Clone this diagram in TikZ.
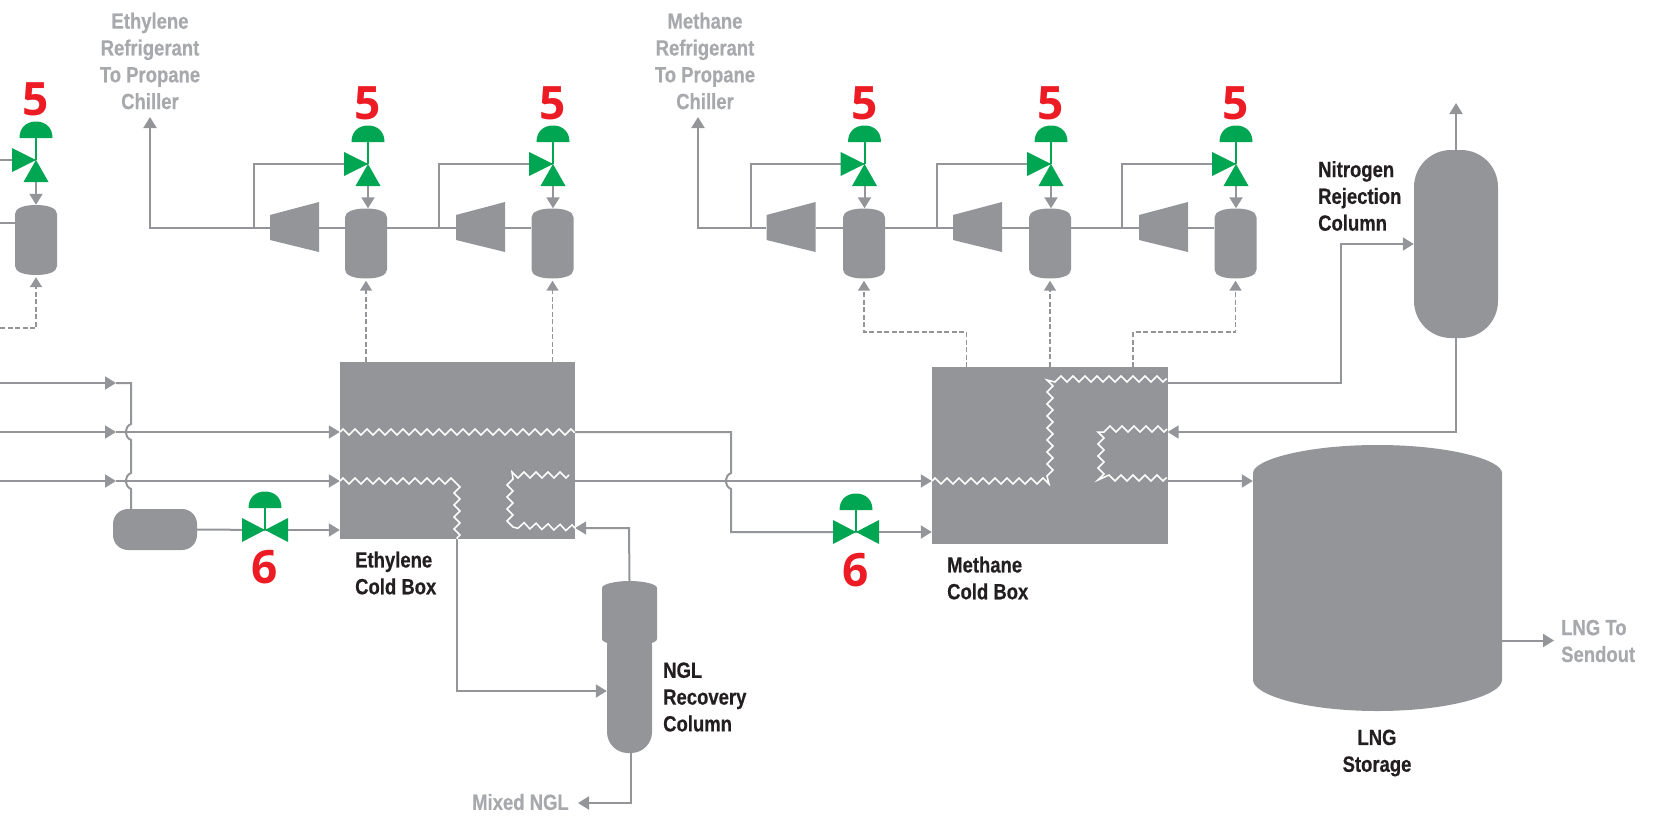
\documentclass[tikz,border=0pt]{standalone}
\usepackage{fontspec}
\usetikzlibrary{arrows.meta}
\usetikzlibrary{decorations.pathmorphing}
\usetikzlibrary{calc}
\newfontfamily\lblfont[FakeStretch=0.84,FakeBold=0.5]{Liberation Sans}
\newfontfamily\numfont{Open Sans}
\definecolor{gray1}{RGB}{147, 149, 152}
\definecolor{gray2}{RGB}{167, 169, 172}
\definecolor{green1}{RGB}{0, 166, 81}
\definecolor{red1}{RGB}{237, 28, 36}
\definecolor{dark1}{RGB}{35, 31, 32}
\tikzset{
  pipe/.style={draw=gray1, line width=2pt},
  flow/.style={pipe, -{Triangle[length=11pt,width=13pt]}},
  dashflow/.style={draw=gray1, line width=1.6pt, dash pattern=on 5pt off 2.5pt, -{Triangle[length=10pt,width=12pt,fill=gray1]}, shorten >=2pt},
  coil/.style={draw=white, line width=1.5pt, decorate, decoration={zigzag,amplitude=3pt,segment length=12pt}},
  domed/.style 2 args={rectangle, inner sep=0pt, path picture={
    \fill[gray1] ([yshift=-#1]path picture bounding box.north west)
      .. controls ([yshift=-3pt]path picture bounding box.north west) and ([xshift=-#2]path picture bounding box.north) .. (path picture bounding box.north)
      .. controls ([xshift=#2]path picture bounding box.north) and ([yshift=-3pt]path picture bounding box.north east) .. ([yshift=-#1]path picture bounding box.north east)
      -- ([yshift=#1]path picture bounding box.south east)
      .. controls ([yshift=3pt]path picture bounding box.south east) and ([xshift=#2]path picture bounding box.south) .. (path picture bounding box.south)
      .. controls ([xshift=-#2]path picture bounding box.south) and ([yshift=3pt]path picture bounding box.south west) .. ([yshift=#1]path picture bounding box.south west)
      -- cycle;}},
  vessel/.style={domed={9pt}{12pt}, minimum width=42pt, minimum height=70pt},
  comp/.style={rectangle, inner sep=0pt, minimum width=49pt, minimum height=50pt, path picture={
    \fill[gray1] ([yshift=-13pt]path picture bounding box.north west) -- (path picture bounding box.north east)
      -- (path picture bounding box.south east) -- ([yshift=12pt]path picture bounding box.south west) -- cycle;}},
  box/.style={rectangle, fill=gray1, inner sep=0pt},
  lngtank/.style={rectangle, inner sep=0pt, minimum width=249pt, minimum height=266pt, path picture={
    \fill[gray1] ([yshift=-28pt]path picture bounding box.north west)
      .. controls ([yshift=-15pt]path picture bounding box.north west) and ([xshift=-72pt]path picture bounding box.north) .. (path picture bounding box.north)
      .. controls ([xshift=72pt]path picture bounding box.north) and ([yshift=-15pt]path picture bounding box.north east) .. ([yshift=-28pt]path picture bounding box.north east)
      -- ([yshift=31pt]path picture bounding box.south east)
      .. controls ([yshift=16pt]path picture bounding box.south east) and ([xshift=72pt]path picture bounding box.south) .. (path picture bounding box.south)
      .. controls ([xshift=-72pt]path picture bounding box.south) and ([yshift=16pt]path picture bounding box.south west) .. ([yshift=31pt]path picture bounding box.south west)
      -- cycle;}},
  lbl/.style={align=center, inner sep=0pt, font=\lblfont\bfseries\fontsize{22}{26.8}\selectfont},
  darklbl/.style={lbl, text=dark1, align=left, anchor=west},
  graylbl/.style={lbl, text=gray2},
  num/.style={text=red1, inner sep=0pt, font=\numfont\bfseries\fontsize{46}{46}\selectfont},
  dome/.pic={
    \fill[green1] (-16.5,-22) .. controls (-16.5,-33) and (-9,-38.5) .. (0,-38.5)
      .. controls (9,-38.5) and (16.5,-33) .. (16.5,-22) -- cycle;
    \draw[green1, line width=2pt] (0,-22) -- (0,0);},
  valvea/.pic={
    \pic {dome};
    \fill[green1] (-24,-12) -- (0,0) -- (-24,12) -- cycle;
    \fill[green1] (0,0) -- (12.5,22) -- (-12.5,22) -- cycle;},
  valveb/.pic={
    \pic {dome};
    \fill[green1] (-23,-12) -- (23,12) -- (23,-12) -- (-23,12) -- cycle;}
}
\begin{document}
\begin{tikzpicture}[x=1pt, y=-1pt]
  \useasboundingbox (0,0) rectangle (1656,819);
  % cold boxes
  \node[box, minimum width=235pt, minimum height=177pt] (eBox) at (457.5,450.5) {};
  \node[box, minimum width=235.5pt, minimum height=177pt] (mBox) at (1049.75,455.5) {};
  \node[box, rounded corners=15pt, minimum width=84pt, minimum height=41pt] (tank) at (155,529.5) {};
  \node[box, rounded corners=37pt, minimum width=84pt, minimum height=188pt] (nrc) at (1456,244) {};
  \node[box, rounded corners=21pt, minimum width=45pt, minimum height=128pt] (nglB) at (629.5,689) {};
  \node[domed={7pt}{14pt}, minimum width=55pt, minimum height=65pt] (nglT) at (629.5,613.5) {};
  \node[lngtank] (lng) at (1377.5,578) {};
  % first stage, cut off at the border
  \node[vessel] (v0) at (36,240) {};
  \coordinate (va0) at (36,160);
  \coordinate (vb0) at (36,181);
  \coordinate (l0a) at (0,160);
  \coordinate (l0b) at (0,223);
  \coordinate (l0c) at (0,328);
  \draw[pipe] (l0a) -- (va0);
  \draw[pipe] (l0b) -- (v0.west |- l0b);
  \draw[flow] (vb0) -- (v0.north);
  \draw[dashflow] (l0c) -| (v0.south);
  \pic at (va0) {valvea};
  \node[num] (n0) at (36,99) {5};
  % compressor stages
  \foreach \id/\ves/\val/\cmp/\brn in {e1/366/368/294.5/254, e2/552.5/553/480.5/439, m1/864/864.5/791/751, m2/1050/1051/977.5/937, m3/1235.5/1236/1163.5/1122} {
    \node[vessel] (v\id) at (\ves,243.5) {};
    \node[comp] (c\id) at (\cmp,227) {};
    \coordinate (b\id) at (\brn,228);
    \coordinate (va\id) at (\val,164);
    \coordinate (vb\id) at (\val,186);
    \draw[pipe] (v\id.west |- b\id) -- (c\id.east |- b\id);
    \draw[pipe] (c\id.west |- b\id) -- (b\id) |- (va\id);
    \draw[flow] (vb\id) -- (vb\id |- v\id.north);
    \pic at (va\id) {valvea};
    \node[num] (n\id) at (\val,103) {5};
  }
  \coordinate (eUp) at (150,117);
  \coordinate (mUp) at (698,117);
  \draw[flow] (be1) -| (eUp);
  \draw[flow] (bm1) -| (mUp);
  \draw[pipe] (ve1.east |- be2) -- (be2);
  \draw[pipe] (vm1.east |- bm2) -- (bm2);
  \draw[pipe] (vm2.east |- bm3) -- (bm3);
  % dashed lines from the boxes
  \coordinate (d1) at (966.5,367);
  \coordinate (d2) at (1133,367);
  \draw[dashflow] (ve1.south |- eBox.north) -- (ve1.south);
  \draw[dashflow] (ve2.south |- eBox.north) -- (ve2.south);
  \draw[dashflow] (vm2.south |- mBox.north) -- (vm2.south);
  \draw[dashflow] (d1) -- ++(0,-35) -| (vm1.south);
  \draw[dashflow] (d2) -- ++(0,-35) -| (vm3.south);
  % feed lines on the left
  \coordinate (in1) at (0,383);
  \coordinate (in2) at (0,432);
  \coordinate (in3) at (0,481);
  \coordinate (j1) at (116,383);
  \coordinate (j2) at (116,432);
  \coordinate (j3) at (116,481);
  \coordinate (c1) at (131,383);
  \coordinate (h2) at (131,432);
  \coordinate (h3) at (131,481);
  \draw[flow] (in1) -- (j1);
  \draw[flow] (in2) -- (j2);
  \draw[flow] (in3) -- (j3);
  \draw[flow] (j2) -- (eBox.west |- j2);
  \draw[flow] (j3) -- (eBox.west |- j3);
  \draw[pipe] (j1) -- (c1) -- ([yshift=8pt]h2)
    .. controls +(-7,3) and +(-7,-3) .. ([yshift=-8pt]h2) -- ([yshift=8pt]h3)
    .. controls +(-7,3) and +(-7,-3) .. ([yshift=-8pt]h3) -- (tank.north -| h3);
  % valves 6
  \coordinate (vc1) at (265,530);
  \coordinate (vc2) at (856,532);
  \draw[pipe] (tank.east) -- (vc1);
  \draw[flow] (vc1) -- (eBox.west |- vc1);
  \pic at (vc1) {valveb};
  \node[num] (n6a) at (265,567) {6};
  \coordinate (h4) at (731,481);
  \coordinate (c2) at (731,432);
  \draw[pipe] (eBox.east |- c2) -- (c2) -- ([yshift=8pt]h4)
    .. controls +(-7,3) and +(-7,-3) .. ([yshift=-8pt]h4) |- (vc2);
  \draw[flow] (vc2) -- (mBox.west |- vc2);
  \pic at (vc2) {valveb};
  \node[num] (n6b) at (856,570) {6};
  \draw[flow] (eBox.east |- h4) -- (mBox.west |- h4);
  % ngl column
  \coordinate (e1) at (457,539);
  \coordinate (e2) at (457,691);
  \coordinate (e3) at (629,528);
  \coordinate (e4) at (631,803);
  \coordinate (e5) at (578,803);
  \draw[flow] (e1) |- (nglB.west |- e2);
  \draw[flow] (nglT.north) -- (e3) -- (eBox.east |- e3);
  \draw[flow] (nglB.south -| e4) -- (e4) -- (e5);
  % methane box outlets
  \coordinate (o1) at (1341,383);
  \coordinate (o2) at (1341,244);
  \coordinate (o3) at (1456,432);
  \coordinate (o4) at (1456,103);
  \coordinate (o5) at (1502,640.5);
  \coordinate (o6) at (1554,640.5);
  \draw[flow] (mBox.east |- o1) -- (o1) -- (o2) -- (nrc.west);
  \draw[flow] (nrc.south) -- (o3) -- (mBox.east |- o3);
  \draw[flow] (mBox.east |- h4) -- (lng.west |- h4);
  \draw[flow] (nrc.north) -- (o4);
  \draw[flow] (o5) -- (o6);
  % coils
  \draw[coil] (340,432) -- (575,432);
  \draw[coil] (340,481) -- (457,481) -- (457,539);
  \draw[coil] (569,475) -- (510,475) -- (510,525) -- (575,528);
  \draw[coil] (932,481) -- (1050,481) -- (1050,379) -- (1167,379);
  \draw[coil] (1167,429) -- (1101,429) -- (1101,478) -- (1167,478);
  % labels
  \node[graylbl] (t1) at (150,61) {Ethylene\\Refrigerant\\To Propane\\Chiller};
  \node[graylbl] (t2) at (705,61) {Methane\\Refrigerant\\To Propane\\Chiller};
  \node[graylbl, anchor=west] (t3) at (472,802) {Mixed NGL};
  \node[graylbl, align=left, anchor=west] (t4) at (1561,641) {LNG To\\Sendout};
  \node[darklbl] (t5) at (355,573) {Ethylene\\Cold Box};
  \node[darklbl] (t6) at (947,578) {Methane\\Cold Box};
  \node[darklbl] (t7) at (663,697) {NGL\\Recovery\\Column};
  \node[darklbl] (t8) at (1318,196) {Nitrogen\\Rejection\\Column};
  \node[lbl, text=dark1] (t9) at (1377,753) {LNG\\Storage};
\end{tikzpicture}
\end{document}
